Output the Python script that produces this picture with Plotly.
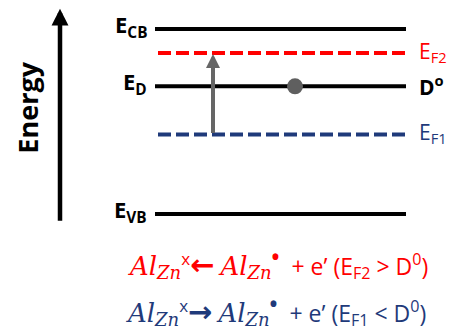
import plotly.graph_objects as go

# ---- data (schematic energy levels, arbitrary energy units) ----
level_names = ["E_CB", "E_F2", "E_D", "E_F1", "E_VB"]
level_energy = [10.0, 8.7, 6.9, 4.3, 0.0]
level_style = ["solid", "dash", "solid", "dash", "solid"]
level_color = ["black", "#FF0000", "black", "#1F3A7A", "black"]
left_labels = {"E_CB": "<b>E<sub>CB</sub></b>", "E_D": "<b>E<sub>D</sub></b>", "E_VB": "<b>E<sub>VB</sub></b>"}
right_labels = {"E_F2": ("E<sub>F2</sub>", "#FF0000"), "E_D": ("<b>D<sup>o</sup></b>", "black"),
                "E_F1": ("E<sub>F1</sub>", "#1F3A7A")}
donor_energy = 6.9
transition_from = 4.3
transition_to = 8.7

# ---- layout constants ----
W, H = 452, 331
Y_TOP, Y_BOT = 11.568, -6.324
X0_SOLID, X0_DASH, X1 = 155, 158, 406
DONOR_X, TRANS_X, AXIS_X = 295, 213, 60

fig = go.Figure()
for name, e, st, col in zip(level_names, level_energy, level_style, level_color):
    fig.add_trace(go.Scatter(
        x=[X0_SOLID if st == "solid" else X0_DASH, X1], y=[e, e], mode="lines",
        line=dict(color=col, width=4, dash="solid" if st == "solid" else "13px,5px"),
        hoverinfo="skip", showlegend=False))

fig.add_trace(go.Scatter(x=[DONOR_X], y=[donor_energy], mode="markers",
                         marker=dict(size=16, color="#5F5F5F"), showlegend=False, hoverinfo="skip"))

ann = []
# energy axis arrow
ann.append(dict(x=AXIS_X, y=11.1, ax=AXIS_X, ay=-0.45, xref="x", yref="y", axref="x", ayref="y",
                showarrow=True, arrowhead=2, arrowsize=0.75, arrowwidth=4.5, arrowcolor="black", text=""))
# transition arrow
ann.append(dict(x=TRANS_X, y=transition_to, ax=TRANS_X, ay=transition_from, xref="x", yref="y",
                axref="x", ayref="y", showarrow=True, arrowhead=2, arrowsize=0.7, arrowwidth=4,
                arrowcolor="#666666", text="", standoff=1))
# Energy label
ann.append(dict(x=28, y=5.75, xref="x", yref="y", text="<b>Energy</b>", showarrow=False, textangle=-90,
                font=dict(family="Open Sans", size=27, color="black")))
for name, e in zip(level_names, level_energy):
    if name in left_labels:
        ann.append(dict(x=149, y=e, xref="x", yref="y", text=left_labels[name], showarrow=False,
                        xanchor="right", yanchor="middle", yshift=3,
                        font=dict(family="Open Sans", size=22, color="black")))
    if name in right_labels:
        t, c = right_labels[name]
        ann.append(dict(x=417, y=e, xref="x", yref="y", text=t, showarrow=False,
                        xanchor="left", yanchor="middle", yshift=1,
                        font=dict(family="Open Sans", size=21, color=c)))

SERIF = "font-family:DejaVu Serif;font-style:italic"
AL = f'<span style="{SERIF};font-size:26px">Al</span>'
ZN = f'<sub><span style="{SERIF};font-size:18px">Zn</span></sub>'
X_SUP = '<sup><span style="font-size:17px">x</span></sup>'
DOT_SUP = '<sup><span style="font-size:21px"><b>\u2022</b></span></sup>'
ARR_L = '<span style="font-family:DejaVu Sans;font-weight:bold;font-size:29px">\u2190</span>'
ARR_R = '<span style="font-family:DejaVu Sans;font-weight:bold;font-size:29px">\u2192</span>'
eq1 = AL + ZN + X_SUP + ARR_L + " " + AL + ZN + DOT_SUP + "  + e\u2019 (E<sub>F2</sub> > D<sup>0</sup>)"
eq2 = AL + ZN + X_SUP + ARR_R + " " + AL + ZN + DOT_SUP + "  + e\u2019 (E<sub>F1</sub> < D<sup>0</sup>)"
ann.append(dict(x=430, y=-2.7, xref="x", yref="y", text=eq1, showarrow=False, xanchor="right",
                font=dict(family="Open Sans", size=23, color="#FF0000")))
ann.append(dict(x=428, y=-5.19, xref="x", yref="y", text=eq2, showarrow=False, xanchor="right",
                font=dict(family="Open Sans", size=23, color="#1F3A7A")))

fig.update_layout(width=W, height=H, margin=dict(l=0, r=0, t=0, b=0),
                  paper_bgcolor="white", plot_bgcolor="white", annotations=ann,
                  xaxis=dict(range=[0, W], visible=False, fixedrange=True),
                  yaxis=dict(range=[Y_BOT, Y_TOP], visible=False, fixedrange=True))
fig.write_html("out.html", config={"displayModeBar": False},
               post_script="document.body.style.margin='0px';document.body.style.overflow='hidden';")
